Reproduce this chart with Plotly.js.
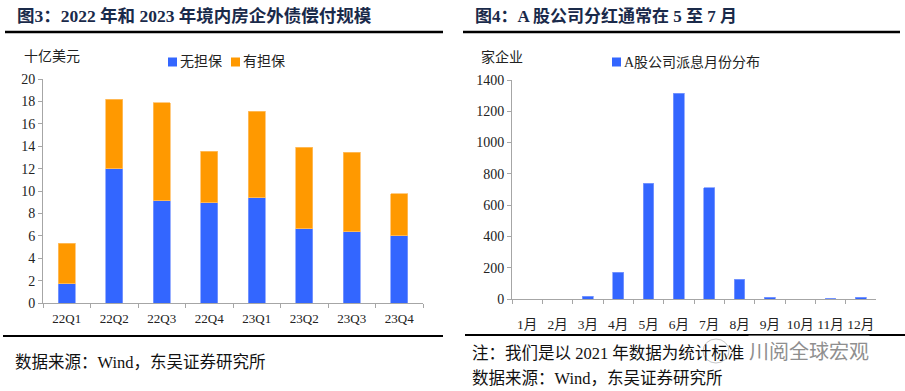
<!DOCTYPE html>
<html><head><meta charset="utf-8">
<script src="https://cdn.plot.ly/plotly-3.0.1.min.js"></script>
<style>html,body{margin:0;padding:0;background:#fff}#c{width:905px;height:391px}</style>
</head><body><div id="c"></div>
<script>
var quarters = ['22Q1','22Q2','22Q3','22Q4','23Q1','23Q2','23Q3','23Q4'];
var unsecured = [1.72, 11.98, 9.15, 8.95, 9.4, 6.62, 6.38, 6.0];
var secured = [3.62, 6.2, 8.75, 4.58, 7.73, 7.27, 7.07, 3.74];
var months = ['1月','2月','3月','4月','5月','6月','7月','8月','9月','10月','11月','12月'];
var dividends = [0, 0, 19, 172, 741, 1315, 711, 126, 10, 0, 6, 10];
var seriesNames = ['无担保', '有担保', 'A股公司派息月份分布'];
var seriesColors = ['#3366FF', '#FF9900', '#3366FF'];

var serif = '"Liberation Serif", "Times New Roman", "Noto Sans CJK SC", serif';
var W = 905, H = 391;
function px(x){return x/W;}
function py(y){return (H-y)/H;}

var traces = [
  {type:'bar', x:quarters, y:unsecured, name:seriesNames[0], xaxis:'x', yaxis:'y',
   marker:{color:seriesColors[0], line:{color:'#7f9cff', width:0.8}}},
  {type:'bar', x:quarters, y:secured, name:seriesNames[1], xaxis:'x', yaxis:'y',
   marker:{color:seriesColors[1], line:{color:'#ffbf66', width:0.8}}},
  {type:'bar', x:months, y:dividends, name:seriesNames[2], xaxis:'x2', yaxis:'y2',
   marker:{color:seriesColors[2], line:{color:'#7f9cff', width:0.8}}}
];

var axisCommon = {showgrid:false, zeroline:false, showline:true, linecolor:'#a6a6a6', linewidth:1,
  ticks:'outside', tickcolor:'#a6a6a6', ticklen:4, tickfont:{family:serif, size:14, color:'#222'}};

var legendItems = [
  {x:168, y:62, name:seriesNames[0], color:seriesColors[0]},
  {x:231, y:62, name:seriesNames[1], color:seriesColors[1]},
  {x:612, y:62, name:seriesNames[2], color:seriesColors[2]}
];
var shapes = [
  {type:'line', xref:'paper', yref:'paper', x0:px(5), x1:px(443), y0:py(32), y1:py(32), line:{color:'#000', width:2.5}},
  {type:'line', xref:'paper', yref:'paper', x0:px(463), x1:px(900), y0:py(32), y1:py(32), line:{color:'#000', width:2.5}},
  {type:'line', xref:'paper', yref:'paper', x0:px(3), x1:px(443), y0:py(336), y1:py(336), line:{color:'#000', width:2}},
  {type:'line', xref:'paper', yref:'paper', x0:px(465), x1:px(905), y0:py(335), y1:py(335), line:{color:'#000', width:2}}
];
var annotations = [
  {text:'<b>图3：2022 年和 2023 年境内房企外债偿付规模</b>', x:px(15), y:py(16), font:{family:serif, size:17.5, color:'#1a2a4a'}},
  {text:'<b>图4：A 股公司分红通常在 5 至 7 月</b>', x:px(473), y:py(16), font:{family:serif, size:17, color:'#1a2a4a'}},
  {text:'十亿美元', x:px(22), y:py(57), font:{family:serif, size:14, color:'#222'}},
  {text:'家企业', x:px(479), y:py(57), font:{family:serif, size:14, color:'#222'}},
  {text:'数据来源：Wind，东吴证券研究所', x:px(13), y:py(362), font:{family:serif, size:16.5, color:'#111'}},
  {text:'注：我们是以 2021 年数据为统计标准', x:px(470), y:py(353), font:{family:serif, size:16.5, color:'#111'}},
  {text:'川阅全球宏观', x:px(748), y:py(350), bgcolor:'rgba(255,255,255,0.75)', borderpad:0,
   font:{family:'"Noto Sans CJK SC", sans-serif', size:20, color:'#8f8f8f'}},
  {text:'数据来源：Wind，东吴证券研究所', x:px(470), y:py(378), font:{family:serif, size:16.5, color:'#111'}}
];
// watermark icon (faint)
shapes.push({type:'circle', xref:'paper', yref:'paper', x0:px(703), x1:px(729), y0:py(363), y1:py(339),
  fillcolor:'rgba(255,255,255,0.6)', line:{color:'#c8c8c8', width:1}});
legendItems.forEach(function(it){
  shapes.push({type:'rect', xref:'paper', yref:'paper', x0:px(it.x), x1:px(it.x+9), y0:py(it.y+4.5), y1:py(it.y-4.5),
    fillcolor:it.color, line:{width:0}});
  annotations.push({text:it.name, x:px(it.x+10), y:py(it.y), font:{family:serif, size:14, color:'#222'}});
});
annotations.forEach(function(a){
  a.xref='paper'; a.yref='paper'; a.xanchor='left'; a.yanchor='middle'; a.showarrow=false;
});

var layout = {
  width:W, height:H, margin:{l:0,r:0,t:0,b:0}, paper_bgcolor:'#fff', plot_bgcolor:'#fff',
  barmode:'stack', bargap:0.64, showlegend:false,
  xaxis: Object.assign({}, axisCommon, {domain:[px(43), px(423)], anchor:'y', tickson:'boundaries', tickangle:0,
    tickfont:{family:serif, size:13, color:'#222'}, ticklabelstandoff:3}),
  yaxis: Object.assign({}, axisCommon, {domain:[py(303), py(79)], anchor:'x', range:[0,20], dtick:2}),
  xaxis2: Object.assign({}, axisCommon, {domain:[px(512), px(876)], anchor:'y2', tickson:'boundaries', tickangle:0,
    tickfont:{family:serif, size:13.5, color:'#222'}, ticklabelstandoff:13}),
  yaxis2: Object.assign({}, axisCommon, {domain:[py(299), py(80)], anchor:'x2', range:[0,1400], dtick:200}),
  shapes: shapes,
  annotations: annotations
};

Plotly.newPlot('c', traces, layout, {displayModeBar:false, staticPlot:true});
</script></body></html>
